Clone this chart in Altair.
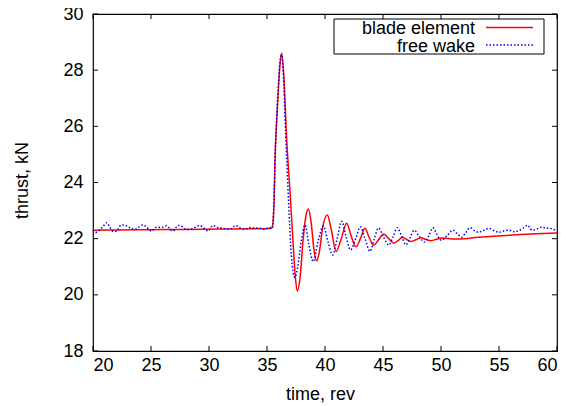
import altair as alt
import pandas as pd

# ---- data ----
red_t = [20.0, 22.0, 25.0, 28.0, 31.0, 34.0, 35.3, 35.45, 35.6, 35.69, 35.85, 35.98, 36.12, 36.27,
         36.45, 36.7, 36.98, 37.27, 37.45, 37.61, 37.85, 38.1, 38.35, 38.56, 38.8, 39.05, 39.28,
         39.5, 39.8, 40.2, 40.55, 40.95, 41.4, 41.87, 42.25, 42.67, 43.05, 43.45, 43.8, 44.19,
         44.6, 45.06, 45.5, 45.94, 46.3, 46.67, 47.0, 47.4, 47.85, 48.28, 48.7, 49.16, 49.6,
         50.17, 51.0, 51.5, 53.24, 56.17, 60.0]
red_v = [22.30, 22.31, 22.32, 22.33, 22.34, 22.35, 22.36, 22.42, 23.2, 24.8, 26.3, 27.3, 28.2, 28.6,
         27.8, 25.5, 23.7, 21.7, 20.6, 20.14, 20.6, 21.9, 22.8, 23.06, 22.6, 21.6, 21.21,
         21.5, 22.4, 22.84, 22.3, 21.54, 22.0, 22.55, 22.1, 21.71, 22.0, 22.37, 22.05, 21.77,
         21.95, 22.17, 22.0, 21.84, 21.93, 22.05, 21.98, 21.9, 21.96, 22.03, 21.97, 21.93, 21.98,
         22.02, 21.99, 21.99, 22.05, 22.13, 22.2]

blue_t = [20.0, 20.2, 20.5, 20.86, 21.2, 21.4, 21.78, 22.0, 22.44, 22.87, 23.2, 23.59, 23.9, 24.31,
          24.6, 25.03, 25.46, 25.9, 26.32, 26.9, 27.33, 27.6, 28.05, 28.6, 29.2, 29.5, 29.91,
          30.34, 30.7, 31.1, 31.78, 32.3, 32.6, 33.08, 33.5, 33.9, 34.3, 34.8, 35.17, 35.4,
          35.5, 35.6, 35.7, 35.85, 36.0, 36.12, 36.25, 36.4, 36.6, 36.85, 37.1, 37.41, 37.65,
          37.95, 38.28, 38.6, 38.99, 39.4, 39.86, 40.25, 40.66, 41.05, 41.44, 41.8, 42.2, 42.65,
          43.05, 43.45, 43.88, 44.25, 44.62, 45.05, 45.5, 45.85, 46.23, 46.6, 46.97, 47.3, 47.69,
          48.1, 48.57, 48.95, 49.3, 49.65, 50.03, 50.5, 51.05, 51.4, 51.78, 52.1, 52.52, 52.9,
          53.24, 53.7, 54.12, 54.6, 55.0, 55.4, 55.88, 56.25, 56.6, 57.0, 57.48, 57.7, 57.92,
          58.3, 58.65, 59.0, 59.38, 59.7, 60.0]
blue_v = [22.30, 22.22, 22.28, 22.43, 22.57, 22.45, 22.25, 22.26, 22.49, 22.46, 22.38, 22.33, 22.40, 22.49,
          22.42, 22.27, 22.41, 22.40, 22.46, 22.27, 22.47, 22.45, 22.33, 22.36, 22.47, 22.40, 22.27,
          22.47, 22.40, 22.38, 22.33, 22.47, 22.40, 22.33, 22.40, 22.38, 22.38, 22.33, 22.40, 22.36,
          22.42, 23.3, 24.9, 26.5, 27.6, 28.3, 28.55, 27.9, 25.8, 23.4, 21.4, 20.62, 21.0,
          21.9, 22.49, 21.8, 21.18, 21.9, 22.45, 21.9, 21.42, 22.0, 22.62, 22.1, 21.6, 22.0,
          22.42, 22.0, 21.55, 22.0, 22.38, 22.05, 21.77, 22.05, 22.39, 22.1, 21.78, 22.0, 22.30,
          22.1, 21.88, 22.1, 22.39, 22.15, 21.94, 22.1, 22.30, 22.18, 22.05, 22.2, 22.39, 22.28,
          22.23, 22.3, 22.37, 22.28, 22.23, 22.27, 22.30, 22.25, 22.27, 22.35, 22.48, 22.35, 22.30,
          22.35, 22.41, 22.38, 22.37, 22.33, 22.30]

x_ticks = [20, 25, 30, 35, 40, 45, 50, 55, 60]
y_ticks = [18, 20, 22, 24, 26, 28, 30]
series_names = ["blade element", "free wake"]
x_title = "time, rev"
y_title = "thrust, kN"

W, H = 464, 337
FONT = "Liberation Sans"

red_df = pd.DataFrame({"t": red_t, "v": red_v})
blue_df = pd.DataFrame({"t": blue_t, "v": blue_v})
xt_df = pd.DataFrame({"t": x_ticks})
yt_df = pd.DataFrame({"v": y_ticks})

xs = alt.Scale(domain=[20, 60], nice=False, zero=False)
ys = alt.Scale(domain=[18, 30], nice=False, zero=False)

xaxis = alt.Axis(values=x_ticks, ticks=False, tickSize=0, domain=False, grid=False,
                 labelFont=FONT, labelFontSize=18, labelColor="black", labelPadding=5,
                 title=x_title, titleFont=FONT, titleFontSize=18, titleFontWeight="normal",
                 titleColor="black", titleX=227, titleY=48, titleBaseline="alphabetic")
yaxis = alt.Axis(values=y_ticks, ticks=False, tickSize=0, domain=False, grid=False,
                 labelFont=FONT, labelFontSize=18, labelColor="black", labelPadding=10,
                 title=y_title, titleFont=FONT, titleFontSize=18, titleFontWeight="normal",
                 titleColor="black", titleX=-66, titleY=166, titleAngle=-90,
                 titleBaseline="alphabetic", titleAlign="center")

red = alt.Chart(red_df).mark_line(color="#ff0000", strokeWidth=1.5, interpolate="monotone").encode(
    x=alt.X("t:Q", scale=xs, axis=xaxis),
    y=alt.Y("v:Q", scale=ys, axis=yaxis),
)
blue = alt.Chart(blue_df).mark_line(color="#0000ff", strokeWidth=1.5, strokeDash=[1.5, 2],
                                    interpolate="monotone").encode(
    x=alt.X("t:Q", scale=xs),
    y=alt.Y("v:Q", scale=ys),
)

tick_len = 5
xt_bottom = alt.Chart(xt_df).mark_rule(color="black", strokeWidth=1).encode(
    x=alt.X("t:Q", scale=xs), y=alt.value(H), y2=alt.value(H - tick_len))
xt_top = alt.Chart(xt_df).mark_rule(color="black", strokeWidth=1).encode(
    x=alt.X("t:Q", scale=xs), y=alt.value(0), y2=alt.value(tick_len))
yt_left = alt.Chart(yt_df).mark_rule(color="black", strokeWidth=1).encode(
    y=alt.Y("v:Q", scale=ys), x=alt.value(0), x2=alt.value(tick_len))
yt_right = alt.Chart(yt_df).mark_rule(color="black", strokeWidth=1).encode(
    y=alt.Y("v:Q", scale=ys), x=alt.value(W), x2=alt.value(W - tick_len))

# legend box (gnuplot style: label right-aligned, sample to its right)
leg_box = alt.Chart(red_df.head(1)).mark_rect(fill="white", stroke="black", strokeWidth=1).encode(
    x=alt.value(241), x2=alt.value(451), y=alt.value(5), y2=alt.value(40))
leg_t1 = alt.Chart(red_df.head(1)).mark_text(text=series_names[0], font=FONT, fontSize=18,
                                             align="right", baseline="alphabetic", color="black").encode(
    x=alt.value(382), y=alt.value(20))
leg_t2 = alt.Chart(red_df.head(1)).mark_text(text=series_names[1], font=FONT, fontSize=18,
                                             align="right", baseline="alphabetic", color="black").encode(
    x=alt.value(382), y=alt.value(37.5))
leg_l1 = alt.Chart(red_df.head(1)).mark_rule(color="#ff0000", strokeWidth=1.5).encode(
    x=alt.value(393), x2=alt.value(440), y=alt.value(13.5))
leg_l2 = alt.Chart(red_df.head(1)).mark_rule(color="#0000ff", strokeWidth=1.5, strokeDash=[1.5, 2]).encode(
    x=alt.value(393), x2=alt.value(440), y=alt.value(31))

chart = alt.layer(red, blue, xt_bottom, xt_top, yt_left, yt_right,
                  leg_box, leg_t1, leg_t2, leg_l1, leg_l2).properties(
    width=W, height=H,
    autosize=alt.AutoSizeParams(type="none"),
    padding={"left": 85, "top": 6, "right": 5, "bottom": 55},
    background="white",
).configure_view(stroke="black", strokeWidth=1.2)

chart.save("out.html", embed_options={"renderer": "svg", "actions": False})
